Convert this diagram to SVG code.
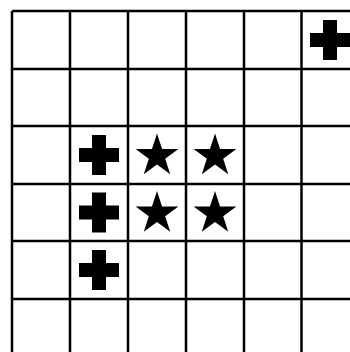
<svg xmlns="http://www.w3.org/2000/svg" xmlns:xlink="http://www.w3.org/1999/xlink" width="350" height="352" viewBox="0 0 350 352">
<style>
.grid line{stroke:#000;stroke-width:2.5;}
.mark{fill:#000;}
</style>
<defs>
<path id="cross" d="M-7,-20H7V-7H20V7H7V20H-7V7H-20V-7H-7Z"/>
<polygon id="star" points="0,-22.5 5.05,-6.96 21.4,-6.95 8.18,2.66 13.23,18.2 0,8.6 -13.23,18.2 -8.18,2.66 -21.4,-6.95 -5.05,-6.96"/>
</defs>
<rect width="350" height="352" fill="#fff"/>
<g class="grid" id="grid">
<line x1="12" y1="11" x2="350" y2="11"/>
<line x1="12" y1="69" x2="350" y2="69"/>
<line x1="12" y1="126" x2="350" y2="126"/>
<line x1="12" y1="184" x2="350" y2="184"/>
<line x1="12" y1="241" x2="350" y2="241"/>
<line x1="12" y1="299" x2="350" y2="299"/>
<line x1="12" y1="11" x2="12" y2="352"/>
<line x1="70" y1="11" x2="70" y2="352"/>
<line x1="128" y1="11" x2="128" y2="352"/>
<line x1="186" y1="11" x2="186" y2="352"/>
<line x1="244" y1="11" x2="244" y2="352"/>
<line x1="301.5" y1="11" x2="301.5" y2="352"/>
</g>
<g id="cross-5-0" class="mark"><use xlink:href="#cross" href="#cross" x="330" y="40"/></g>
<g id="cross-1-2" class="mark"><use xlink:href="#cross" href="#cross" x="99" y="155"/></g>
<g id="cross-1-3" class="mark"><use xlink:href="#cross" href="#cross" x="99" y="212.5"/></g>
<g id="cross-1-4" class="mark"><use xlink:href="#cross" href="#cross" x="99" y="270"/></g>
<g id="star-2-2" class="mark"><use xlink:href="#star" href="#star" x="157" y="156"/></g>
<g id="star-3-2" class="mark"><use xlink:href="#star" href="#star" x="215" y="156"/></g>
<g id="star-2-3" class="mark"><use xlink:href="#star" href="#star" x="157" y="213.5"/></g>
<g id="star-3-3" class="mark"><use xlink:href="#star" href="#star" x="215" y="213.5"/></g>
</svg>
